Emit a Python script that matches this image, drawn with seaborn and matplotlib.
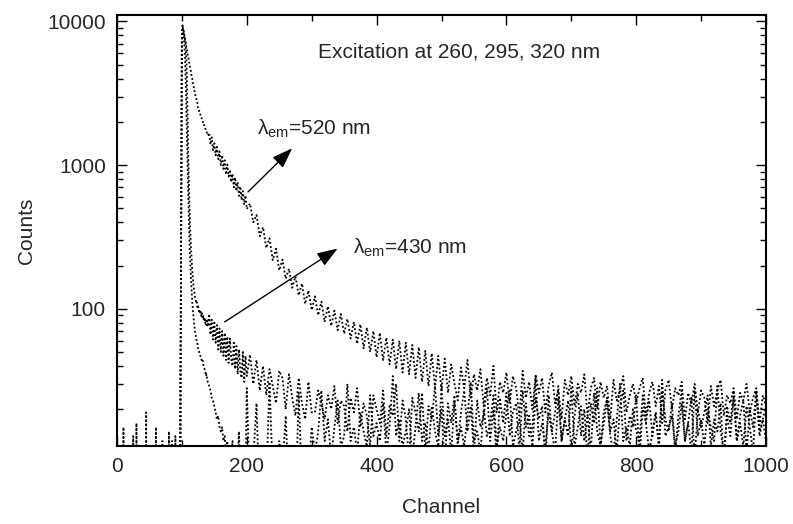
import numpy as np
import pandas as pd
import matplotlib
matplotlib.use("Agg")
import matplotlib.pyplot as plt
from matplotlib import ticker
import seaborn as sns

# Channel axis of the multichannel analyser, sampled more finely around the pulse
channel_pre = np.arange(0, 100, 5)
channel_peak = np.arange(96, 141)
channel_mid = np.arange(142, 201, 2)
channel_tail = np.arange(205, 1001, 5)

# Instrument response / fast component
irf_pre = [0, 0, 15, 0, 0, 0, 16, 0, 0, 19, 0, 0, 15, 0, 0, 0, 14, 0, 13, 0]
irf_peak = [0, 0, 30, 600, 7200, 9400, 8600, 7800, 6700, 5300,
            3700, 2300, 1350, 820, 530, 370, 265, 205, 162, 133,
            112, 97, 86, 77, 71, 66, 63, 58, 57, 53,
            52, 49, 48, 46, 45, 43, 44, 41, 39, 38,
            37, 34, 35, 32, 31]
irf_mid = [29, 27, 24, 23, 21, 19, 17, 18, 15, 14,
           15, 12, 13, 10, 12, 9, 11, 8, 12, 7,
           10, 6, 9, 14, 5, 8, 4, 11, 6, 28]
irf_tail = [5, 9, 22, 4, 8, 6, 31, 7, 3, 12,
            8, 18, 5, 9, 4, 26, 6, 10, 7, 15,
            10, 14, 27, 12, 17, 9, 15, 23, 11, 13,
            30, 12, 15, 10, 19, 14, 11, 25, 13, 16,
            12, 22, 10, 15, 34, 13, 17, 11, 14, 20,
            9, 15, 26, 12, 16, 10, 21, 14, 11, 29,
            13, 17, 10, 23, 12, 15, 11, 18, 31, 12,
            14, 10, 20, 13, 16, 25, 11, 15, 12, 19,
            27, 11, 14, 17, 10, 22, 13, 15, 33, 12,
            16, 11, 19, 14, 10, 24, 12, 17, 13, 28,
            11, 15, 21, 12, 18, 10, 26, 14, 11, 16,
            23, 13, 10, 17, 30, 12, 15, 11, 20, 14,
            12, 25, 16, 10, 14, 19, 11, 32, 13, 15,
            18, 11, 14, 22, 12, 16, 10, 27, 13, 17,
            11, 20, 15, 12, 29, 14, 10, 18, 13, 24,
            12, 16, 11, 21, 15, 10, 26, 14, 17, 12]

# Emission at 430 nm
em430_pre = [0, 0, 0, 0, 0, 13, 0, 0, 0, 0, 0, 0, 0, 0, 12, 0, 0, 0, 0, 0]
em430_peak = [0, 5, 40, 450, 6600, 9200, 8900, 8500, 8000, 7400,
              6700, 5400, 3400, 1900, 1100, 690, 470, 345, 268, 222,
              186, 163, 142, 135, 121, 118, 109, 111, 101, 104,
              96, 99, 92, 95, 88, 93, 85, 89, 82, 87,
              79, 84, 77, 82, 75]
em430_mid = [92, 66, 84, 61, 80, 58, 77, 52, 73, 50,
             70, 47, 68, 44, 64, 42, 62, 45, 40, 58,
             38, 55, 35, 52, 37, 33, 50, 31, 47, 34]
em430_tail = [48, 30, 44, 27, 40, 25, 38, 29, 22, 37,
              33, 20, 35, 24, 18, 33, 22, 17, 31, 19,
              19, 27, 22, 17, 25, 20, 29, 16, 23, 21,
              14, 24, 19, 28, 15, 22, 18, 11, 25, 20,
              16, 27, 13, 21, 18, 30, 12, 23, 17, 9,
              24, 19, 14, 26, 10, 21, 17, 29, 13, 20,
              8, 22, 16, 25, 11, 19, 27, 14, 21, 10,
              23, 15, 18, 28, 12, 20, 9, 24, 16, 26,
              13, 19, 22, 10, 27, 15, 18, 11, 24, 17,
              21, 8, 25, 14, 19, 29, 12, 17, 23, 10,
              18, 26, 13, 20, 9, 22, 16, 28, 11, 19,
              24, 14, 17, 10, 21, 27, 12, 18, 15, 25,
              9, 20, 16, 23, 13, 19, 11, 26, 17, 14,
              22, 10, 18, 27, 12, 16, 24, 9, 20, 15,
              19, 25, 11, 17, 14, 22, 8, 21, 16, 26,
              12, 18, 23, 10, 20, 15, 27, 13, 17, 21]

# Emission at 520 nm
em520_pre = [0, 0, 0, 0, 0, 0, 0, 0, 0, 0, 0, 0, 0, 0, 0, 0, 0, 12, 0, 0]
em520_peak = [0, 3, 35, 500, 8300, 9000, 8800, 8200, 7900, 7400,
              7150, 6600, 6350, 5850, 5650, 5200, 5050, 4650, 4500, 4150,
              4000, 3700, 3600, 3300, 3250, 3000, 2950, 2750, 2700, 2500,
              2480, 2330, 2320, 2180, 2170, 2060, 2040, 1940, 1950, 1830,
              1820, 1730, 1720, 1630, 1610]
em520_mid = [1680, 1390, 1560, 1270, 1420, 1170, 1340, 1100, 1250, 1000,
             1170, 940, 1080, 860, 1010, 830, 930, 760, 870, 700,
             820, 660, 760, 610, 710, 570, 660, 530, 615, 495]
em520_tail = [540, 400, 450, 320, 370, 265, 310, 218, 262, 185,
              220, 162, 190, 140, 168, 124, 150, 108, 134, 98,
              122, 90, 112, 81, 104, 76, 97, 71, 92, 67,
              85, 62, 81, 57, 78, 53, 74, 50, 70, 46,
              68, 44, 63, 41, 61, 38, 60, 36, 58, 35,
              56, 33, 54, 31, 51, 29, 49, 28, 47, 27,
              45, 26, 41, 30, 23, 39, 28, 44, 24, 35,
              27, 38, 21, 33, 25, 40, 19, 31, 26, 36,
              22, 34, 28, 18, 37, 24, 31, 20, 35, 26,
              33, 19, 29, 36, 22, 27, 17, 32, 25, 34,
              21, 30, 26, 35, 18, 28, 33, 20, 31, 24,
              29, 17, 32, 23, 27, 34, 19, 25, 30, 22,
              28, 33, 18, 26, 31, 21, 29, 16, 27, 32,
              20, 28, 25, 31, 17, 26, 22, 30, 19, 27,
              24, 16, 29, 21, 27, 32, 18, 25, 22, 28,
              17, 26, 23, 30, 19, 24, 28, 16, 25, 21]

traces = {
    "irf": (irf_pre, irf_peak, irf_mid, irf_tail),
    "430 nm": (em430_pre, em430_peak, em430_mid, em430_tail),
    "520 nm": (em520_pre, em520_peak, em520_mid, em520_tail),
}

channels = np.concatenate([channel_pre, channel_peak, channel_mid, channel_tail])
frames = []
for name, parts in traces.items():
    counts = np.concatenate([np.asarray(p, dtype=float) for p in parts])
    assert len(counts) == len(channels), name
    frames.append(pd.DataFrame({"channel": channels, "counts": counts, "trace": name}))
decays = pd.concat(frames, ignore_index=True)

sns.set_theme(style="ticks")
plt.rcParams["font.family"] = ["Liberation Sans", "DejaVu Sans"]
plt.rcParams["mathtext.default"] = "regular"

fig = plt.figure(figsize=(7.93, 5.24), dpi=100)
ax = fig.add_axes([0.1475, 0.149, 0.8185, 0.8225])

sns.lineplot(data=decays, x="channel", y="counts", units="trace", estimator=None,
             sort=False, color="black", linewidth=1.3, linestyle=(0, (1, 1.3)),
             legend=False, ax=ax)

ax.set_yscale("log")
ax.set_xlim(0, 1000)
ax.set_ylim(11.1, 11100)

ax.xaxis.set_major_locator(ticker.MultipleLocator(200))
ax.xaxis.set_minor_locator(ticker.MultipleLocator(100))
ax.yaxis.set_major_locator(ticker.LogLocator(base=10))
ax.yaxis.set_minor_locator(ticker.LogLocator(base=10, subs=np.arange(2, 10)))
ax.yaxis.set_major_formatter(ticker.FuncFormatter(lambda v, p: f"{v:g}"))
ax.yaxis.set_minor_formatter(ticker.NullFormatter())

ax.tick_params(which="both", direction="in", top=True, right=True, width=1.0,
               color="black")
ax.tick_params(which="major", length=7, labelsize=15, pad=8)
ax.tick_params(which="minor", length=4)
for s in ax.spines.values():
    s.set_linewidth(1.5)
    s.set_color("black")

ax.set_xlabel("Channel", fontsize=15, labelpad=16)
ax.set_ylabel("Counts", fontsize=15, labelpad=8)

ax.text(310, 6100, "Excitation at 260, 295, 320 nm", fontsize=15, va="center", ha="left")
ax.text(216, 1800, r"$λ_{em}$=520 nm", fontsize=15, va="center", ha="left")
ax.text(364, 267, r"$λ_{em}$=430 nm", fontsize=15, va="center", ha="left")

arrow = dict(arrowstyle="-|>,head_length=0.7,head_width=0.25", color="black",
             lw=1.0, mutation_scale=18, shrinkA=0, shrinkB=0)
ax.annotate("", xy=(270, 1310), xytext=(202, 651), arrowprops=arrow)
ax.annotate("", xy=(340, 263), xytext=(166, 81), arrowprops=arrow)

fig.savefig("out.png", dpi=100, facecolor="white")
